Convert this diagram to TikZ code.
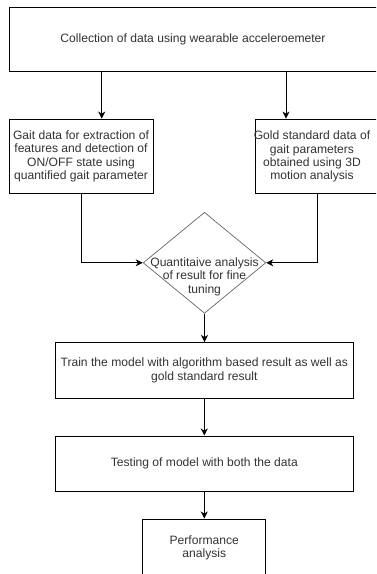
\documentclass[tikz,border=0pt]{standalone}
\usepackage{fontspec}
\setmainfont{Liberation Sans}
\usetikzlibrary{shapes.geometric,arrows.meta}
\definecolor{txtgray}{HTML}{333333}
\definecolor{diagray}{HTML}{666666}

\begin{document}
\begin{tikzpicture}[
  x=1pt, y=1pt,
  font=\fontsize{12.1}{13.2}\selectfont,
  box/.style={draw, line width=0.9pt, text=txtgray, align=center, inner sep=0pt},
  dec/.style={diamond, draw=diagray, line width=0.7pt, inner sep=0pt},
  lbl/.style={text=txtgray, align=center, inner sep=0pt},
  arr/.style={line width=0.9pt, -{Stealth[length=7pt, width=7pt, inset=2pt]}}
]
\useasboundingbox (0,0) rectangle (376,-574);
\clip (0,0) rectangle (376,-574);
\fill[white] (0,0) rectangle (376,-574);

\node[box, minimum width=368, minimum height=64.5] (collect) at (193,-39.5)
  {Collection of data using wearable acceleroemeter};
\node[box, minimum width=144, minimum height=74.5] (gait) at (81,-156.3)
  {Gait data for extraction of\\ features and detection of\\ ON/OFF state using\\ quantified gait parameter};
\node[box, minimum width=144, minimum height=74.5] (gold) at (327.7,-156.3) {};
\node[lbl] (goldtxt) at (312,-156.5)
  {Gold standard data of\\ gait parameters\\ obtained using 3D\\ motion analysis};
\node[dec, minimum width=122.7, minimum height=101] (quant) at (204.5,-262.8) {};
\node[lbl] (quanttxt) at (204.5,-276.7)
  {Quantitaive analysis\\ of result for fine\\ tuning};
\node[box, minimum width=298, minimum height=55.7] (train) at (204.3,-370.3)
  {Train the model with algorithm based result as well as\\ gold standard result};
\node[box, minimum width=298, minimum height=55] (test) at (204.3,-463.5)
  {Testing of model with both the data};
\node[box, minimum width=123, minimum height=58] (perf) at (204.3,-548)
  {Performance\\ analysis};

% split of the collected data
\coordinate (gaitin) at ([xshift=20.7]gait.north);
\coordinate (goldin) at ([xshift=-41.7]gold.north);
\draw[arr] (collect.south -| gaitin) -- (gaitin);
\draw[arr] (collect.south -| goldin) -- (goldin);

% both branches meet at the decision
\draw[arr] (gait.south) |- (quant.west);
\draw[arr] ([xshift=-10.4]gold.south) |- (quant.east);

\draw[arr] (quant.south) -- (quant.south |- train.north);
\draw[arr] (train.south) -- (test.north);
\draw[arr] (test.south) -- (perf.north);
\end{tikzpicture}
\end{document}
